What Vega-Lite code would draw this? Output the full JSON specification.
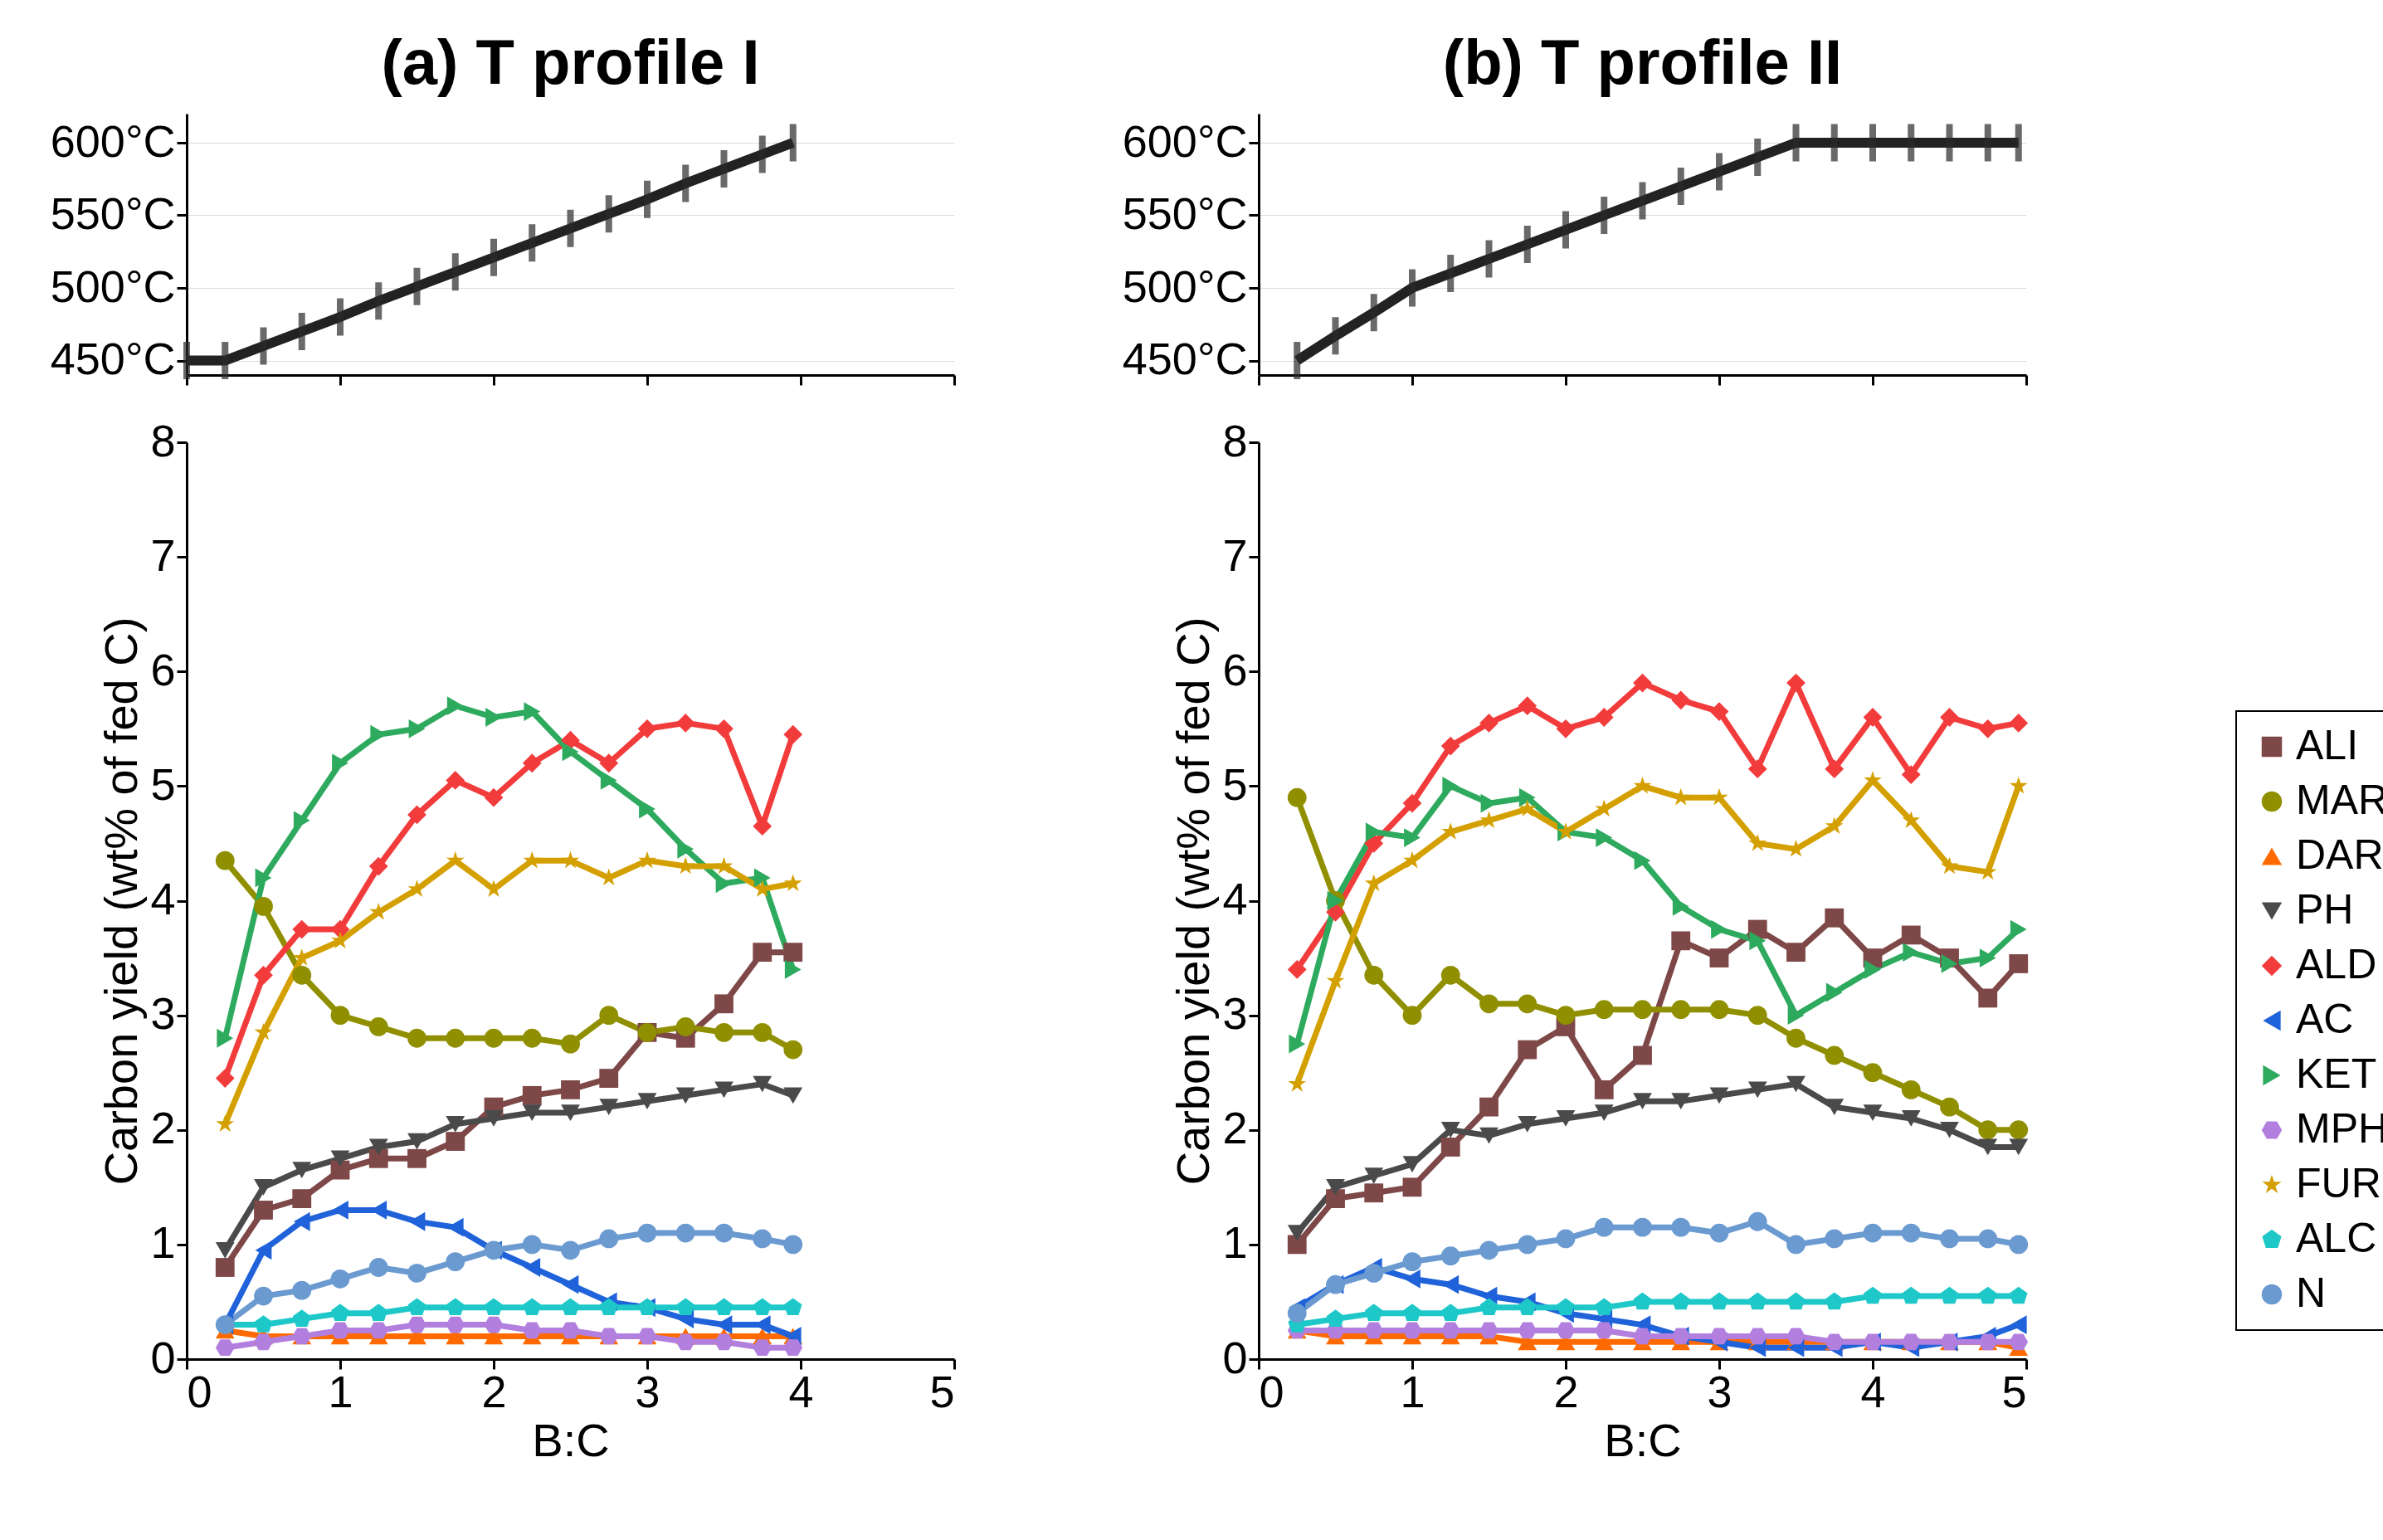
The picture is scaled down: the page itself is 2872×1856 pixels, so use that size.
{
"$schema":"https://vega.github.io/schema/vega-lite/v6.json",
"padding":{"left":60,"top":40,"right":5,"bottom":5},
"background":"white",
"config":{"font":"Liberation Sans","view":{"stroke":null},
"axis":{"domainColor":"black","domainWidth":3,"tickColor":"black","tickWidth":3,"tickSize":12,"labelFontSize":54,"titleFontSize":56,"titleFontWeight":"normal","labelColor":"black","titleColor":"black","grid":false},
"title":{"fontSize":76,"fontWeight":"bold","color":"black","offset":20},
"concat":{"spacing":200},
"legend":{"strokeColor":"black","strokeWidth":2,"padding":18,"labelFontSize":50,"symbolSize":600,"rowPadding":16,"symbolStrokeWidth":0}},
"datasets":{
"A":[
{"x":0.25,"ALI":0.8,"MAR":4.35,"DAR":0.25,"PH":0.95,"ALD":2.45,"AC":0.3,"KET":2.8,"MPH":0.1,"FUR":2.05,"ALC":0.3,"N":0.3},
{"x":0.5,"ALI":1.3,"MAR":3.95,"DAR":0.2,"PH":1.5,"ALD":3.35,"AC":0.95,"KET":4.2,"MPH":0.15,"FUR":2.85,"ALC":0.3,"N":0.55},
{"x":0.75,"ALI":1.4,"MAR":3.35,"DAR":0.2,"PH":1.65,"ALD":3.75,"AC":1.2,"KET":4.7,"MPH":0.2,"FUR":3.5,"ALC":0.35,"N":0.6},
{"x":1.0,"ALI":1.65,"MAR":3.0,"DAR":0.2,"PH":1.75,"ALD":3.75,"AC":1.3,"KET":5.2,"MPH":0.25,"FUR":3.65,"ALC":0.4,"N":0.7},
{"x":1.25,"ALI":1.75,"MAR":2.9,"DAR":0.2,"PH":1.85,"ALD":4.3,"AC":1.3,"KET":5.45,"MPH":0.25,"FUR":3.9,"ALC":0.4,"N":0.8},
{"x":1.5,"ALI":1.75,"MAR":2.8,"DAR":0.2,"PH":1.9,"ALD":4.75,"AC":1.2,"KET":5.5,"MPH":0.3,"FUR":4.1,"ALC":0.45,"N":0.75},
{"x":1.75,"ALI":1.9,"MAR":2.8,"DAR":0.2,"PH":2.05,"ALD":5.05,"AC":1.15,"KET":5.7,"MPH":0.3,"FUR":4.35,"ALC":0.45,"N":0.85},
{"x":2.0,"ALI":2.2,"MAR":2.8,"DAR":0.2,"PH":2.1,"ALD":4.9,"AC":0.95,"KET":5.6,"MPH":0.3,"FUR":4.1,"ALC":0.45,"N":0.95},
{"x":2.25,"ALI":2.3,"MAR":2.8,"DAR":0.2,"PH":2.15,"ALD":5.2,"AC":0.8,"KET":5.65,"MPH":0.25,"FUR":4.35,"ALC":0.45,"N":1.0},
{"x":2.5,"ALI":2.35,"MAR":2.75,"DAR":0.2,"PH":2.15,"ALD":5.4,"AC":0.65,"KET":5.3,"MPH":0.25,"FUR":4.35,"ALC":0.45,"N":0.95},
{"x":2.75,"ALI":2.45,"MAR":3.0,"DAR":0.2,"PH":2.2,"ALD":5.2,"AC":0.5,"KET":5.05,"MPH":0.2,"FUR":4.2,"ALC":0.45,"N":1.05},
{"x":3.0,"ALI":2.85,"MAR":2.85,"DAR":0.2,"PH":2.25,"ALD":5.5,"AC":0.45,"KET":4.8,"MPH":0.2,"FUR":4.35,"ALC":0.45,"N":1.1},
{"x":3.25,"ALI":2.8,"MAR":2.9,"DAR":0.2,"PH":2.3,"ALD":5.55,"AC":0.35,"KET":4.45,"MPH":0.15,"FUR":4.3,"ALC":0.45,"N":1.1},
{"x":3.5,"ALI":3.1,"MAR":2.85,"DAR":0.2,"PH":2.35,"ALD":5.5,"AC":0.3,"KET":4.15,"MPH":0.15,"FUR":4.3,"ALC":0.45,"N":1.1},
{"x":3.75,"ALI":3.55,"MAR":2.85,"DAR":0.2,"PH":2.4,"ALD":4.65,"AC":0.3,"KET":4.2,"MPH":0.1,"FUR":4.1,"ALC":0.45,"N":1.05},
{"x":3.95,"ALI":3.55,"MAR":2.7,"DAR":0.2,"PH":2.3,"ALD":5.45,"AC":0.2,"KET":3.4,"MPH":0.1,"FUR":4.15,"ALC":0.45,"N":1.0}],
"B":[
{"x":0.25,"ALI":1.0,"MAR":4.9,"DAR":0.25,"PH":1.1,"ALD":3.4,"AC":0.45,"KET":2.75,"MPH":0.25,"FUR":2.4,"ALC":0.3,"N":0.4},
{"x":0.5,"ALI":1.4,"MAR":4.0,"DAR":0.2,"PH":1.5,"ALD":3.9,"AC":0.65,"KET":4.0,"MPH":0.25,"FUR":3.3,"ALC":0.35,"N":0.65},
{"x":0.75,"ALI":1.45,"MAR":3.35,"DAR":0.2,"PH":1.6,"ALD":4.5,"AC":0.8,"KET":4.6,"MPH":0.25,"FUR":4.15,"ALC":0.4,"N":0.75},
{"x":1.0,"ALI":1.5,"MAR":3.0,"DAR":0.2,"PH":1.7,"ALD":4.85,"AC":0.7,"KET":4.55,"MPH":0.25,"FUR":4.35,"ALC":0.4,"N":0.85},
{"x":1.25,"ALI":1.85,"MAR":3.35,"DAR":0.2,"PH":2.0,"ALD":5.35,"AC":0.65,"KET":5.0,"MPH":0.25,"FUR":4.6,"ALC":0.4,"N":0.9},
{"x":1.5,"ALI":2.2,"MAR":3.1,"DAR":0.2,"PH":1.95,"ALD":5.55,"AC":0.55,"KET":4.85,"MPH":0.25,"FUR":4.7,"ALC":0.45,"N":0.95},
{"x":1.75,"ALI":2.7,"MAR":3.1,"DAR":0.15,"PH":2.05,"ALD":5.7,"AC":0.5,"KET":4.9,"MPH":0.25,"FUR":4.8,"ALC":0.45,"N":1.0},
{"x":2.0,"ALI":2.9,"MAR":3.0,"DAR":0.15,"PH":2.1,"ALD":5.5,"AC":0.4,"KET":4.6,"MPH":0.25,"FUR":4.6,"ALC":0.45,"N":1.05},
{"x":2.25,"ALI":2.35,"MAR":3.05,"DAR":0.15,"PH":2.15,"ALD":5.6,"AC":0.35,"KET":4.55,"MPH":0.25,"FUR":4.8,"ALC":0.45,"N":1.15},
{"x":2.5,"ALI":2.65,"MAR":3.05,"DAR":0.15,"PH":2.25,"ALD":5.9,"AC":0.3,"KET":4.35,"MPH":0.2,"FUR":5.0,"ALC":0.5,"N":1.15},
{"x":2.75,"ALI":3.65,"MAR":3.05,"DAR":0.15,"PH":2.25,"ALD":5.75,"AC":0.2,"KET":3.95,"MPH":0.2,"FUR":4.9,"ALC":0.5,"N":1.15},
{"x":3.0,"ALI":3.5,"MAR":3.05,"DAR":0.15,"PH":2.3,"ALD":5.65,"AC":0.15,"KET":3.75,"MPH":0.2,"FUR":4.9,"ALC":0.5,"N":1.1},
{"x":3.25,"ALI":3.75,"MAR":3.0,"DAR":0.15,"PH":2.35,"ALD":5.15,"AC":0.1,"KET":3.65,"MPH":0.2,"FUR":4.5,"ALC":0.5,"N":1.2},
{"x":3.5,"ALI":3.55,"MAR":2.8,"DAR":0.15,"PH":2.4,"ALD":5.9,"AC":0.1,"KET":3.0,"MPH":0.2,"FUR":4.45,"ALC":0.5,"N":1.0},
{"x":3.75,"ALI":3.85,"MAR":2.65,"DAR":0.15,"PH":2.2,"ALD":5.15,"AC":0.1,"KET":3.2,"MPH":0.15,"FUR":4.65,"ALC":0.5,"N":1.05},
{"x":4.0,"ALI":3.5,"MAR":2.5,"DAR":0.15,"PH":2.15,"ALD":5.6,"AC":0.15,"KET":3.4,"MPH":0.15,"FUR":5.05,"ALC":0.55,"N":1.1},
{"x":4.25,"ALI":3.7,"MAR":2.35,"DAR":0.15,"PH":2.1,"ALD":5.1,"AC":0.1,"KET":3.55,"MPH":0.15,"FUR":4.7,"ALC":0.55,"N":1.1},
{"x":4.5,"ALI":3.5,"MAR":2.2,"DAR":0.15,"PH":2.0,"ALD":5.6,"AC":0.15,"KET":3.45,"MPH":0.15,"FUR":4.3,"ALC":0.55,"N":1.05},
{"x":4.75,"ALI":3.15,"MAR":2.0,"DAR":0.15,"PH":1.85,"ALD":5.5,"AC":0.2,"KET":3.5,"MPH":0.15,"FUR":4.25,"ALC":0.55,"N":1.05},
{"x":4.95,"ALI":3.45,"MAR":2.0,"DAR":0.1,"PH":1.85,"ALD":5.55,"AC":0.3,"KET":3.75,"MPH":0.15,"FUR":5.0,"ALC":0.55,"N":1.0}],
"TA":[{"x":0,"T":450},{"x":0.25,"T":450},{"x":0.5,"T":460},{"x":0.75,"T":470},{"x":1,"T":480},{"x":1.25,"T":491},{"x":1.5,"T":501},{"x":1.75,"T":511},{"x":2,"T":521},{"x":2.25,"T":531},{"x":2.5,"T":541},{"x":2.75,"T":551},{"x":3,"T":561},{"x":3.25,"T":572},{"x":3.5,"T":582},{"x":3.75,"T":592},{"x":3.95,"T":600}],
"TB":[{"x":0.25,"T":450},{"x":0.5,"T":467},{"x":0.75,"T":483},{"x":1,"T":500},{"x":1.25,"T":510},{"x":1.5,"T":520},{"x":1.75,"T":530},{"x":2,"T":540},{"x":2.25,"T":550},{"x":2.5,"T":560},{"x":2.75,"T":570},{"x":3,"T":580},{"x":3.25,"T":590},{"x":3.5,"T":600},{"x":3.75,"T":600},{"x":4,"T":600},{"x":4.25,"T":600},{"x":4.5,"T":600},{"x":4.75,"T":600},{"x":4.95,"T":600}]
},
"resolve":{"scale":{"color":"shared","shape":"shared"},"legend":{"color":"shared","shape":"shared"}},
"hconcat":[
{"spacing":40,"vconcat":[
 {"title":"(a) T profile I","width":925,"height":315,"data":{"name":"TA"},
  "layer":[
   {"mark":{"type":"line","color":"#222","strokeWidth":12},"encoding":{"x":{"field":"x","type":"quantitative","scale":{"domain":[0,5]},"axis":{"labels":false,"title":null,"values":[0,1,2,3,4,5]}},"y":{"field":"T","type":"quantitative","scale":{"domain":[443,605]},"axis":{"values":[450,500,550,600],"labelExpr":"datum.value+'°C'","title":null,"grid":true,"gridColor":"#ddd","gridWidth":1}}}},
   {"mark":{"type":"tick","orient":"vertical","color":"#2a2a2a","thickness":8,"size":45},"encoding":{"x":{"field":"x","type":"quantitative"},"y":{"field":"T","type":"quantitative"}}}
  ]},
 {"width":925,"height":1105,"data":{"name":"A"},"transform":[{"fold":["ALI","MAR","DAR","PH","ALD","AC","KET","MPH","FUR","ALC","N"],"as":["s","y"]}],
  "encoding":{"x":{"field":"x","type":"quantitative","scale":{"domain":[0,5]},"axis":{"title":"B:C","values":[0,1,2,3,4,5]}},"y":{"field":"y","type":"quantitative","scale":{"domain":[0,8]},"axis":{"title":"Carbon yield (wt% of fed C)","values":[0,1,2,3,4,5,6,7,8]}},
   "color":{"field":"s","type":"nominal","scale":{"domain":["ALI","MAR","DAR","PH","ALD","AC","KET","MPH","FUR","ALC","N"],"range":["#7f4848","#8f8f00","#ff6a00","#4a4a4a","#f23c3c","#1f62d9","#2eaa5e","#b27fdf","#d4a000","#1ec8c8","#6a9ad0"]},"legend":{"title":null,"orient":"none","legendX":2470,"legendY":720}}},
  "layer":[
   {"mark":{"type":"line","strokeWidth":7}},
   {"mark":{"type":"point","filled":true,"size":520,"opacity":1},"encoding":{"shape":{"field":"s","type":"nominal","scale":{"domain":["ALI","MAR","DAR","PH","ALD","AC","KET","MPH","FUR","ALC","N"],"range":["square","circle","triangle-up","triangle-down","diamond","triangle-left","triangle-right","M-1,0L-0.5,-0.866L0.5,-0.866L1,0L0.5,0.866L-0.5,0.866Z","M0,-1L0.2245,-0.309L0.951,-0.309L0.363,0.118L0.588,0.809L0,0.382L-0.588,0.809L-0.363,0.118L-0.951,-0.309L-0.2245,-0.309Z","M0,-1L0.951,-0.309L0.588,0.809L-0.588,0.809L-0.951,-0.309Z","circle"]},"legend":{"title":null,"orient":"none","legendX":2470,"legendY":720}}}}
  ]}
]},
{"spacing":40,"vconcat":[
 {"title":"(b) T profile II","width":925,"height":315,"data":{"name":"TB"},
  "layer":[
   {"mark":{"type":"line","color":"#222","strokeWidth":12},"encoding":{"x":{"field":"x","type":"quantitative","scale":{"domain":[0,5]},"axis":{"labels":false,"title":null,"values":[0,1,2,3,4,5]}},"y":{"field":"T","type":"quantitative","scale":{"domain":[443,605]},"axis":{"values":[450,500,550,600],"labelExpr":"datum.value+'°C'","title":null,"grid":true,"gridColor":"#ddd","gridWidth":1}}}},
   {"mark":{"type":"tick","orient":"vertical","color":"#2a2a2a","thickness":8,"size":45},"encoding":{"x":{"field":"x","type":"quantitative"},"y":{"field":"T","type":"quantitative"}}}
  ]},
 {"width":925,"height":1105,"data":{"name":"B"},"transform":[{"fold":["ALI","MAR","DAR","PH","ALD","AC","KET","MPH","FUR","ALC","N"],"as":["s","y"]}],
  "encoding":{"x":{"field":"x","type":"quantitative","scale":{"domain":[0,5]},"axis":{"title":"B:C","values":[0,1,2,3,4,5]}},"y":{"field":"y","type":"quantitative","scale":{"domain":[0,8]},"axis":{"title":"Carbon yield (wt% of fed C)","values":[0,1,2,3,4,5,6,7,8]}},
   "color":{"field":"s","type":"nominal"}},
  "layer":[
   {"mark":{"type":"line","strokeWidth":7}},
   {"mark":{"type":"point","filled":true,"size":520,"opacity":1},"encoding":{"shape":{"field":"s","type":"nominal"}}}
  ]}
]}
]
}
